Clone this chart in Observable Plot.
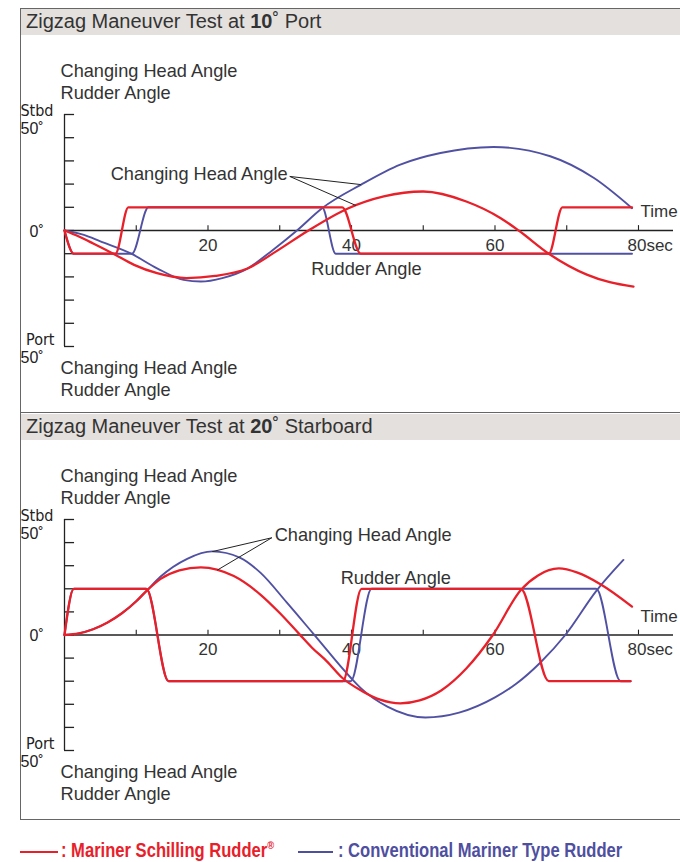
<!DOCTYPE html>
<html>
<head>
<meta charset="utf-8">
<script src="https://cdn.jsdelivr.net/npm/d3@7"></script>
<script src="https://cdn.jsdelivr.net/npm/@observablehq/plot@0.6"></script>
<style>
  body { margin: 0; background: #fff; }
  #root { position: relative; width: 680px; height: 862px; overflow: hidden; background: #fff;
          font-family: "Liberation Sans", Arial, sans-serif; color: #333; }
  .frame { position: absolute; left: 20px; top: 8px; width: 700px; height: 812px;
           border: 1.5px solid #666; border-right: none; box-sizing: border-box; }
  .band { position: absolute; left: 21px; width: 680px; background: #e4e0dd; }
  .title { position: absolute; left: 26px; font-size: 20px; line-height: 20px; color: #333; white-space: nowrap; }
  .sep { position: absolute; left: 20px; width: 680px; height: 0; border-top: 1.5px solid #666; }
  .panel { position: absolute; left: 0; }
  .leg { position: absolute; font-family: "Liberation Sans", Arial, sans-serif; font-weight: bold;
         font-size: 19.5px; line-height: 20px; white-space: nowrap; transform: scaleX(0.85); transform-origin: 0 50%; }
  .legline { position: absolute; height: 2px; }
  sup { font-size: 11px; vertical-align: 8px; line-height: 0; }
</style>
</head>
<body>
<div id="root">
  <div class="frame"></div>
  <div class="band" style="top:9px;height:26px;"></div>
  <div class="title" style="top:11px;">Zigzag Maneuver Test at <b>10</b>˚ Port</div>
  <div class="sep" style="top:412px;"></div>
  <div class="band" style="top:413.5px;height:26.5px;"></div>
  <div class="title" style="top:416px;">Zigzag Maneuver Test at <b>20</b>˚ Starboard</div>
  <div id="p1" class="panel" style="top:35px;"></div>
  <div id="p2" class="panel" style="top:440px;"></div>
  <div class="legline" style="left:20px;top:851px;width:38px;background:#e8202a;"></div>
  <div class="leg" style="left:61px;top:840px;color:#e8202a;">: Mariner Schilling Rudder<sup>®</sup></div>
  <div class="legline" style="left:298px;top:851px;width:35px;background:#4f4fa0;"></div>
  <div class="leg" style="left:338px;top:840px;color:#4f4fa0;">: Conventional Mariner Type Rudder</div>
</div>
<script>
// ---- data: [time (sec), angle (deg, + = starboard)] ----
// Panel 1: Zigzag at 10° Port
const p1SchillingRudder = [[0,0],[1.3,-10],[7.1,-10],[8.9,10],[38.7,10],[41.3,-10],[67.5,-10],[69.4,10],[79.1,10]];
const p1ConventionalRudder = [[0,0],[1.3,-10],[9.4,-10],[11.7,10],[35.9,10],[37.8,-10],[79.1,-10]];
const p1SchillingHead = [[0,0],[2,-2.6],[4,-5.6],[6.8,-10],[9.7,-14.8],[12.9,-18.4],[17,-20.5],[21,-19.6],[25.5,-16.4],[29.5,-9],[34,0],[39.5,9.5],[44.5,14.7],[50,16.8],[56,12.5],[60.8,5.3],[63.3,0],[67.5,-10],[72.8,-19],[76,-22.3],[79.3,-24.2]];
const p1ConventionalHead = [[0,0],[2.7,-1.9],[5,-4.7],[9.3,-10],[12.9,-16.3],[16.6,-21.3],[19,-22],[22,-20.5],[25.5,-16.4],[29,-8.5],[32.4,0],[35.9,9.6],[41.3,19.7],[46.8,28.4],[52.4,33.4],[59.8,36],[67.7,32],[73.8,22.6],[79.1,9.6]];
// Panel 2: Zigzag at 20° Starboard
const p2SchillingRudder = [[0,0],[1.3,20],[11.4,20],[14.5,-20],[38.8,-20],[41.4,20],[63.6,20],[67.5,-20],[78.9,-20]];
const p2ConventionalRudder = [[0,0],[1.3,20],[11.4,20],[14.5,-20],[39.9,-20],[42.8,20],[74.1,20],[77.5,-20],[78.9,-20]];
const p2SchillingHead = [[0,0],[2,0.7],[4,2.5],[6,5.4],[8,9.4],[10,14.6],[11.4,19],[13.4,24.3],[16,28],[19,29.3],[23.6,25.5],[27.3,17.5],[30,9.5],[32.7,0.5],[34.5,-5.5],[36.6,-11.5],[38.7,-18.5],[41.5,-24.3],[44,-28],[46.8,-29.6],[49.5,-28.3],[52.5,-24],[56,-14.5],[59.7,0],[63.6,19.5],[66,25.8],[68.9,28.8],[71.5,27],[74.7,22],[79.1,12.3]];
const p2ConventionalHead = [[0,0],[2,0.7],[4,2.5],[6,5.4],[8,9.4],[10,14.6],[11.4,19],[13.4,25.3],[17.1,33],[20.6,36.2],[24.5,33.4],[27.3,27],[31,14],[34.7,0.5],[39.9,-18.5],[41.3,-23],[45,-31],[50.3,-35.7],[55,-33.6],[60,-27],[63,-21],[66.3,-12],[69.8,0],[74.1,19],[77.9,32.5]];

// ---- axes / labels ----
const yTicks = [-50,-40,-30,-20,-10,0,10,20,30,40,50];
const xTicks = [10,20,30,40,50,60,70,80];
const xTickLabels = [{t:20,label:"20"},{t:40,label:"40"},{t:60,label:"60"}];
const xEndLabel = [{t:80,label:"80sec"}];
const axisTitle = ["Time"];
const sideLabels = ["Changing Head Angle","Rudder Angle"];
const stbdLabels = ["Stbd","50˚"];
const zeroLabel = ["0˚"];
const portLabels = ["Port","50˚"];
const headNote = ["Changing Head Angle"];
const rudderNote = ["Rudder Angle"];

const RED = "#e8202a", BLUE = "#5151a3", INK = "#222", TXT = "#333";
const NARROW = "'Liberation Sans Narrow','Arial Narrow','DejaVu Sans Condensed',sans-serif";
const F = "'Liberation Sans',Arial,sans-serif";
const X = d => d[0], Y = d => d[1];
const FS = 18.2;

function panel({height, marginBottom, rudS, rudC, headS, headC, note}) {
  return Plot.plot({
    width: 680, height, marginLeft: 64, marginRight: 7, marginTop: 79, marginBottom,
    x: {domain: [0, 84.88], axis: null},
    y: {domain: [-50, 50], axis: null},
    style: {fontFamily: F, fontSize: "17px", background: "transparent", overflow: "visible", color: TXT},
    marks: [
      // axes
      Plot.ruleX([0], {stroke: INK, strokeWidth: 1.3}),
      Plot.ruleY(yTicks, {y: d => d, x1: 0, x2: 1.4, stroke: INK, strokeWidth: 1.3}),
      Plot.ruleY([0], {stroke: INK, strokeWidth: 1.3}),
      Plot.ruleX(xTicks, {x: d => d, y1: 0, y2: 2.1, stroke: INK, strokeWidth: 1.1}),
      Plot.text(xTickLabels, {x: "t", y: 0, text: "label", dy: 15, lineAnchor: "middle", fill: TXT, fontSize: 17}),
      Plot.text(xEndLabel, {x: "t", y: 0, text: "label", dx: -11, dy: 15, textAnchor: "start", lineAnchor: "middle", fill: TXT, fontSize: 17}),
      Plot.text(axisTitle, {x: 80, y: 0, text: d => d, dx: 2, dy: -18.5, textAnchor: "start", lineAnchor: "middle", fill: TXT, fontSize: 17}),
      // y labels
      Plot.text([stbdLabels[0]], {frameAnchor: "top-left", text: d => d, textAnchor: "end", lineAnchor: "bottom", dx: -11, dy: 1, fontFamily: NARROW, fontSize: 16, fill: INK}),
      Plot.text([stbdLabels[1]], {frameAnchor: "top-left", text: d => d, textAnchor: "start", lineAnchor: "bottom", dx: -44, dy: 19.5, fontSize: 16, fill: INK}),
      Plot.text(zeroLabel, {frameAnchor: "left", text: d => d, textAnchor: "start", lineAnchor: "bottom", dx: -35, dy: 6, fontSize: 16, fill: INK}),
      Plot.text([portLabels[0]], {frameAnchor: "bottom-left", text: d => d, textAnchor: "end", lineAnchor: "bottom", dx: -10, dy: -2, fontFamily: NARROW, fontSize: 16, fill: INK}),
      Plot.text([portLabels[1]], {frameAnchor: "bottom-left", text: d => d, textAnchor: "start", lineAnchor: "bottom", dx: -44, dy: 16, fontSize: 16, fill: INK}),
      // side labels
      Plot.text([sideLabels[0]], {frameAnchor: "top-left", text: d => d, textAnchor: "start", lineAnchor: "bottom", dx: -4, dy: -37.5, fill: TXT, fontSize: FS}),
      Plot.text([sideLabels[1]], {frameAnchor: "top-left", text: d => d, textAnchor: "start", lineAnchor: "bottom", dx: -4, dy: -15.5, fill: TXT, fontSize: FS}),
      Plot.text([sideLabels[0]], {frameAnchor: "bottom-left", text: d => d, textAnchor: "start", lineAnchor: "bottom", dx: -4, dy: 27, fill: TXT, fontSize: FS}),
      Plot.text([sideLabels[1]], {frameAnchor: "bottom-left", text: d => d, textAnchor: "start", lineAnchor: "bottom", dx: -4, dy: 49.5, fill: TXT, fontSize: FS}),
      // curves
      Plot.line(rudC, {x: X, y: Y, stroke: BLUE, strokeWidth: 1.9, curve: "monotone-x"}),
      Plot.line(headC, {x: X, y: Y, stroke: BLUE, strokeWidth: 1.9, curve: "monotone-x"}),
      Plot.line(rudS, {x: X, y: Y, stroke: RED, strokeWidth: 2.3, curve: "monotone-x"}),
      Plot.line(headS, {x: X, y: Y, stroke: RED, strokeWidth: 2.3, curve: "monotone-x"}),
      // annotations
      Plot.link(note.links, {x1: "x1", y1: "y1", x2: "x2", y2: "y2", stroke: INK, strokeWidth: 1}),
      Plot.text(headNote, {x: note.head[0], y: note.head[1], text: d => d, textAnchor: note.head[2], lineAnchor: "middle", fill: TXT, fontSize: FS}),
      Plot.text(rudderNote, {x: note.rud[0], y: note.rud[1], text: d => d, textAnchor: "start", lineAnchor: "middle", fill: TXT, fontSize: FS})
    ]
  });
}

document.getElementById("p1").append(panel({
  height: 378, marginBottom: 67,
  rudS: p1SchillingRudder, rudC: p1ConventionalRudder, headS: p1SchillingHead, headC: p1ConventionalHead,
  note: {
    head: [31.1, 24.2, "end"], rud: [34.4, -16.8],
    links: [{x1: 31.4, y1: 23.3, x2: 41.3, y2: 19.8}, {x1: 31.4, y1: 23.3, x2: 40.6, y2: 10.8}]
  }
}));
document.getElementById("p2").append(panel({
  height: 379, marginBottom: 69,
  rudS: p2SchillingRudder, rudC: p2ConventionalRudder, headS: p2SchillingHead, headC: p2ConventionalHead,
  note: {
    head: [29.3, 43.4, "start"], rud: [38.5, 24.4],
    links: [{x1: 28.9, y1: 42.1, x2: 20.6, y2: 36.1}, {x1: 28.9, y1: 42.1, x2: 21.3, y2: 28.1}]
  }
}));
</script>
</body>
</html>
